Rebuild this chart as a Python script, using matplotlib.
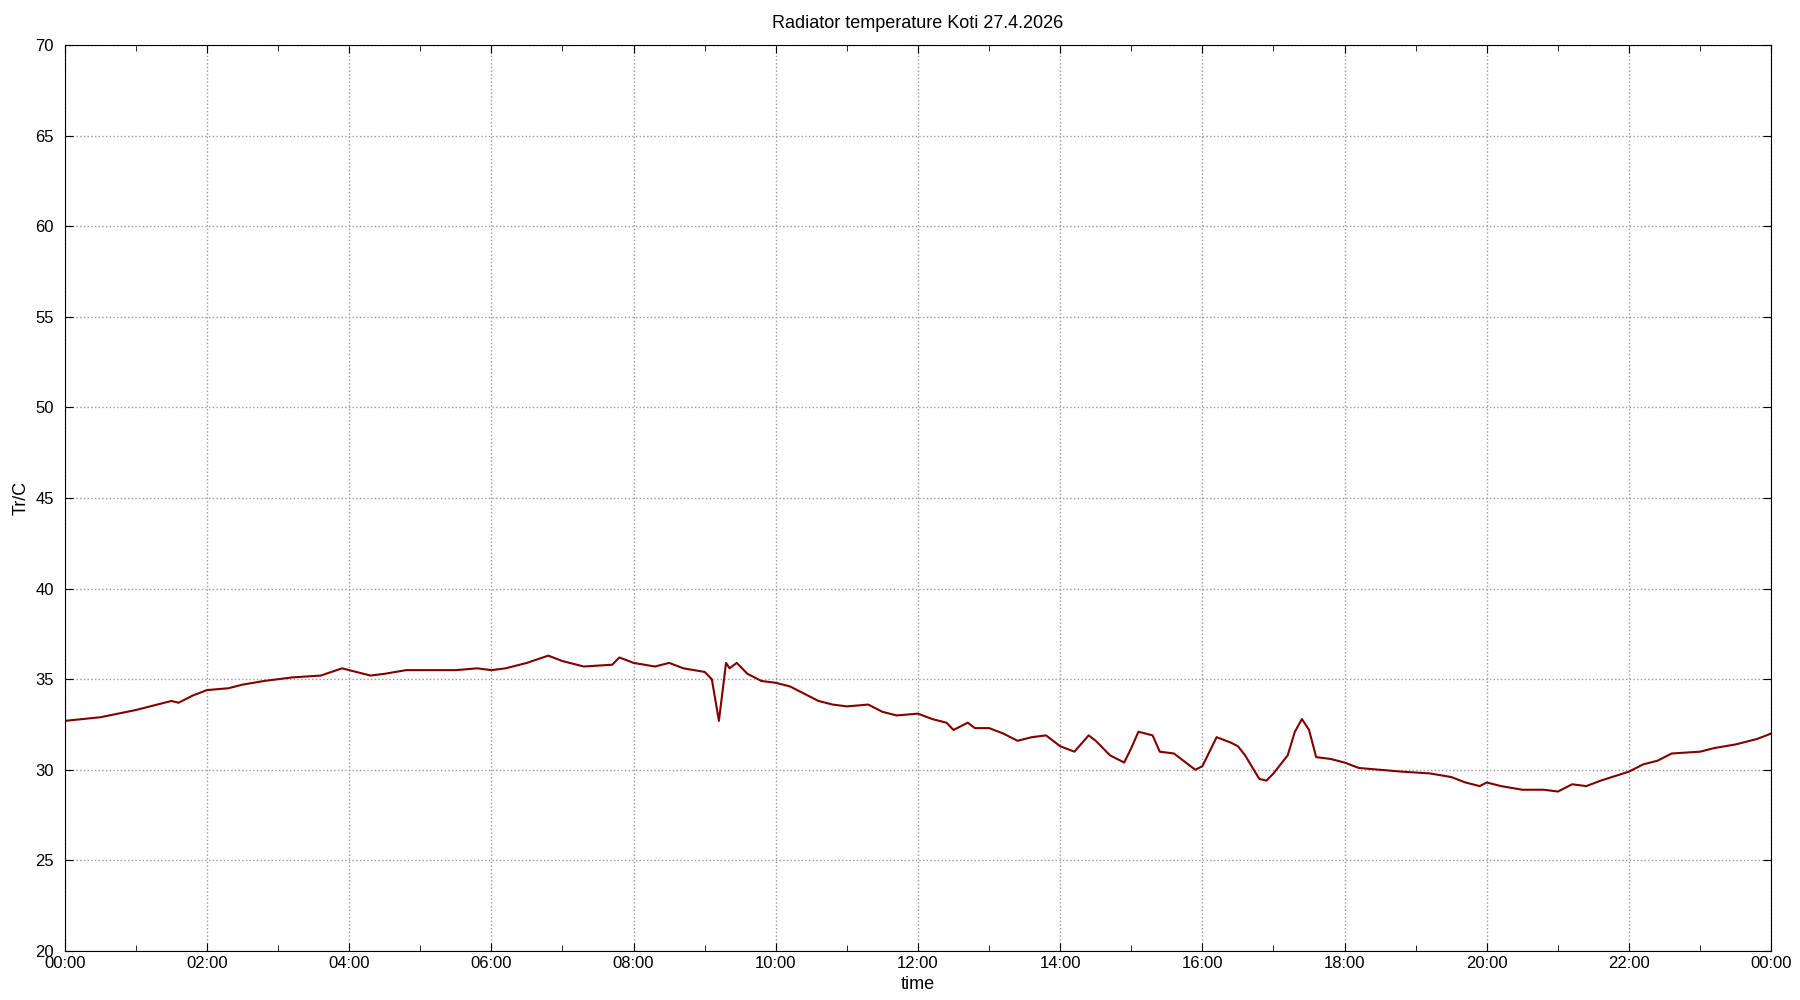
import matplotlib
matplotlib.use("Agg")
import matplotlib.pyplot as plt
from matplotlib.ticker import MultipleLocator, FuncFormatter

hours = [0,0.5,1.0,1.3,1.5,1.6,1.8,2.0,2.3,2.5,2.8,3.0,3.2,3.6,3.9,4.0,4.3,4.5,4.8,5.2,5.5,5.8,6.0,6.2,6.5,6.8,7.0,7.3,7.7,7.8,8.0,8.3,8.5,8.7,9.0,9.1,9.2,9.3,9.35,9.45,9.6,9.8,10.0,10.2,10.4,10.6,10.8,11.0,11.3,11.5,11.7,12.0,12.2,12.4,12.5,12.7,12.8,13.0,13.2,13.4,13.6,13.8,14.0,14.2,14.4,14.5,14.7,14.9,15.0,15.1,15.3,15.4,15.6,15.8,15.9,16.0,16.2,16.4,16.5,16.6,16.8,16.9,17.0,17.2,17.3,17.4,17.5,17.6,17.8,18.0,18.2,18.5,18.8,19.2,19.5,19.7,19.9,20.0,20.2,20.5,20.8,21.0,21.2,21.4,21.6,22.0,22.2,22.4,22.6,23.0,23.2,23.5,23.8,24.0]
temps = [32.7,32.9,33.3,33.6,33.8,33.7,34.1,34.4,34.5,34.7,34.9,35.0,35.1,35.2,35.6,35.5,35.2,35.3,35.5,35.5,35.5,35.6,35.5,35.6,35.9,36.3,36.0,35.7,35.8,36.2,35.9,35.7,35.9,35.6,35.4,35.0,32.7,35.9,35.6,35.9,35.3,34.9,34.8,34.6,34.2,33.8,33.6,33.5,33.6,33.2,33.0,33.1,32.8,32.6,32.2,32.6,32.3,32.3,32.0,31.6,31.8,31.9,31.3,31.0,31.9,31.6,30.8,30.4,31.2,32.1,31.9,31.0,30.9,30.3,30.0,30.2,31.8,31.5,31.3,30.8,29.5,29.4,29.8,30.8,32.1,32.8,32.2,30.7,30.6,30.4,30.1,30.0,29.9,29.8,29.6,29.3,29.1,29.3,29.1,28.9,28.9,28.8,29.2,29.1,29.4,29.9,30.3,30.5,30.9,31.0,31.2,31.4,31.7,32.0]

plt.rcParams['font.family'] = ['Liberation Sans', 'DejaVu Sans']
fig = plt.figure(figsize=(18, 10), dpi=100)
ax = fig.add_axes([0.036, 0.049, 0.948, 0.906])
ax.plot(hours, temps, color='#800000', lw=1.5)
ax.set_xlim(0, 24)
ax.set_ylim(20, 70)
ax.xaxis.set_major_locator(MultipleLocator(2))
ax.xaxis.set_minor_locator(MultipleLocator(1))
ax.yaxis.set_major_locator(MultipleLocator(5))
ax.xaxis.set_major_formatter(FuncFormatter(lambda v, p: "%02d:00" % (int(v) % 24)))
ax.tick_params(which='both', direction='in', top=True, right=True, labelsize=12)
ax.tick_params(which='major', length=6)
ax.tick_params(axis='y', pad=8)
ax.tick_params(which='minor', length=4)
ax.grid(True, which='major', color='#999999', linestyle=':', lw=1)
ax.set_xlabel('time', fontsize=13)
ax.set_ylabel('Tr/C', fontsize=13)
ax.set_title('Radiator temperature Koti 27.4.2026', fontsize=13, pad=12)
fig.savefig('out.png')
